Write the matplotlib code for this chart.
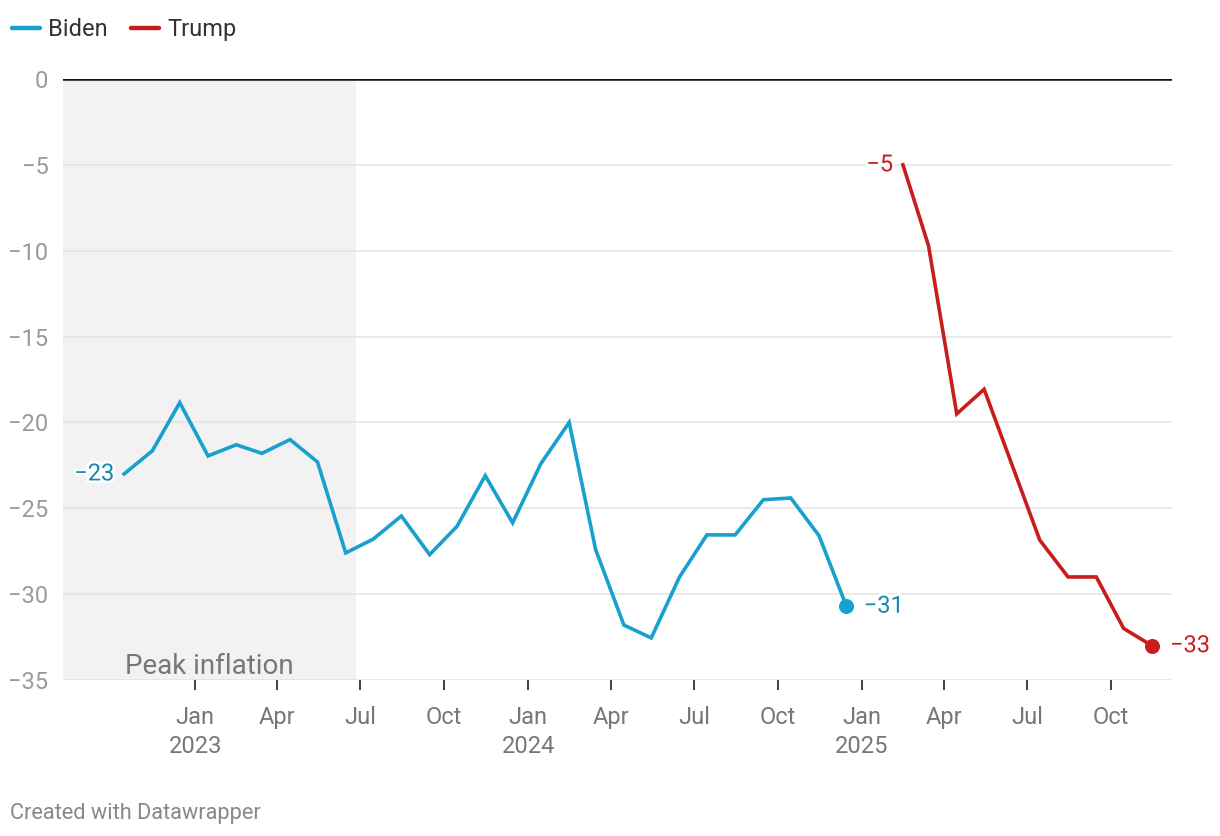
import matplotlib
matplotlib.use("Agg")
import matplotlib.pyplot as plt
import matplotlib.dates as mdates
import matplotlib.patheffects as pe
from datetime import date

plt.rcParams['font.family'] = ['Roboto', 'DejaVu Sans']

# ---- data ----
biden_months = ["2022-10", "2022-11", "2022-12", "2023-01", "2023-02", "2023-03", "2023-04",
                "2023-05", "2023-06", "2023-07", "2023-08", "2023-09", "2023-10", "2023-11",
                "2023-12", "2024-01", "2024-02", "2024-03", "2024-04", "2024-05", "2024-06",
                "2024-07", "2024-08", "2024-09", "2024-10", "2024-11", "2024-12"]
biden_values = [-23.0, -21.65, -18.85, -21.95, -21.3, -21.8, -21.0,
                -22.3, -27.6, -26.8, -25.45, -27.7, -26.05, -23.1,
                -25.85, -22.4, -20.0, -27.4, -31.8, -32.55, -29.0,
                -26.55, -26.55, -24.5, -24.4, -26.6, -30.7]
trump_months = ["2025-02", "2025-03", "2025-04", "2025-05", "2025-07", "2025-08",
                "2025-09", "2025-10", "2025-11"]
trump_values = [-5.0, -9.7, -19.5, -18.07, -26.85, -29.0, -29.0, -32.0, -33.0]

biden_first_label = "−23"
biden_last_label = "−31"
trump_first_label = "−5"
trump_last_label = "−33"

yticks = [0, -5, -10, -15, -20, -25, -30, -35]
ytick_labels = ["0", "−5", "−10", "−15", "−20", "−25", "−30", "−35"]
xtick_dates = ["2023-01", "2023-04", "2023-07", "2023-10", "2024-01", "2024-04",
               "2024-07", "2024-10", "2025-01", "2025-04", "2025-07", "2025-10"]
xtick_labels = ["Jan\n2023", "Apr", "Jul", "Oct", "Jan\n2024", "Apr", "Jul", "Oct",
                "Jan\n2025", "Apr", "Jul", "Oct"]
shade_start = date(2022, 8, 9)
shade_end = date(2023, 6, 26)
shade_label = "Peak inflation"


def mid(m):
    y, mo = m.split("-")
    return date(int(y), int(mo), 15)


def first(m):
    y, mo = m.split("-")
    return date(int(y), int(mo), 1)


bx = [mid(m) for m in biden_months]
tx = [mid(m) for m in trump_months]

BLUE = "#18a1cd"
BLUE_TXT = "#1287b2"
RED = "#c71e1d"

W, H = 1220, 836
fig = plt.figure(figsize=(W / 100, H / 100), dpi=100)
ax = fig.add_axes([63 / W, 1 - 680 / H, (1172 - 63) / W, (680 - 79) / H])

ax.set_xlim(date(2022, 8, 9), date(2025, 12, 7))
ax.set_ylim(-35, 0)

ax.axvspan(shade_start, shade_end, color="#f2f2f2", zorder=0, lw=0)
for yv in yticks[1:]:
    ax.axhline(yv, color="#e3e3e3", lw=1.1, zorder=0.5)
ax.axhline(0, color="#111111", lw=1.8, zorder=3)

ax.plot(bx, biden_values, color=BLUE, lw=2.6, zorder=4, solid_joinstyle="miter")
ax.plot(tx, trump_values, color=RED, lw=2.6, zorder=4, solid_joinstyle="miter")
ax.plot([bx[-1]], [biden_values[-1]], "o", color=BLUE, ms=9.8, zorder=5)
ax.plot([tx[-1]], [trump_values[-1]], "o", color=RED, ms=9.8, zorder=5)

halo = [pe.withStroke(linewidth=4, foreground="white")]
ax.annotate(biden_first_label, (bx[0], biden_values[0]), xytext=(-7, 0), textcoords="offset points",
            ha="right", va="center", color=BLUE_TXT, fontsize=17, path_effects=halo, zorder=6)
ax.annotate(biden_last_label, (bx[-1], biden_values[-1]), xytext=(12.5, 0), textcoords="offset points",
            ha="left", va="center", color=BLUE_TXT, fontsize=17, path_effects=halo, zorder=6)
ax.annotate(trump_first_label, (tx[0], trump_values[0]), xytext=(-7, 0), textcoords="offset points",
            ha="right", va="center", color=RED, fontsize=17, path_effects=halo, zorder=6)
ax.annotate(trump_last_label, (tx[-1], trump_values[-1]), xytext=(13, 0), textcoords="offset points",
            ha="left", va="center", color=RED, fontsize=17, path_effects=halo, zorder=6)

sx0, sx1 = mdates.date2num(shade_start), mdates.date2num(shade_end)
ax.text((sx0 + sx1) / 2, -34.65, shade_label, ha="center", va="baseline",
        color="#777777", fontsize=20, zorder=2)

ax.set_yticks(yticks)
ax.set_yticklabels(ytick_labels)
ax.set_xticks([mdates.date2num(first(m)) for m in xtick_dates])
ax.set_xticklabels(xtick_labels, linespacing=1.32)
ax.tick_params(axis="y", length=0, pad=10.5, labelsize=17, labelcolor="#9a9a9a")
ax.tick_params(axis="x", length=7.2, width=1.3, color="#333333", pad=11.5,
               labelsize=17, labelcolor="#777777", direction="out")
for s in ax.spines.values():
    s.set_visible(False)
ax.grid(False)

# legend
fig.add_artist(plt.Line2D([12 / W, 40 / W], [1 - 28 / H, 1 - 28 / H], color=BLUE, lw=3.2,
                          solid_capstyle="round"))
fig.text(48 / W, 1 - 36 / H, "Biden", color="#333333", fontsize=17, va="baseline", ha="left")
fig.add_artist(plt.Line2D([131 / W, 159 / W], [1 - 28 / H, 1 - 28 / H], color=RED, lw=3.2,
                          solid_capstyle="round"))
fig.text(167 / W, 1 - 36 / H, "Trump", color="#333333", fontsize=17, va="baseline", ha="left")

fig.text(10 / W, 1 - 819 / H, "Created with Datawrapper", color="#888888", fontsize=15.7,
         va="baseline", ha="left")

fig.savefig("out.png", dpi=100, facecolor="white")
